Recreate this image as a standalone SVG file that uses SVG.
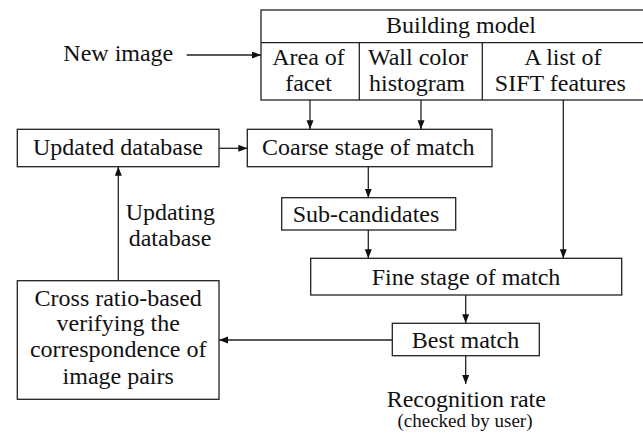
<svg xmlns="http://www.w3.org/2000/svg" width="643" height="436" viewBox="0 0 643 436">
<style>
.box{fill:#fff;stroke:#222;stroke-width:1.3}
.ln{fill:none;stroke:#222;stroke-width:1.3}
.c{stroke:#222;stroke-width:1.3;fill:none;marker-end:url(#ah)}
text{font-size:24px;fill:#111;text-anchor:middle}
.sm{font-size:19px}
</style>
<defs>
<marker id="ah" markerUnits="userSpaceOnUse" markerWidth="10" markerHeight="8" refX="9" refY="3.5" orient="auto">
<path d="M0,0 L9,3.5 L0,7 z" fill="#111"/>
</marker>
</defs>
<rect width="643" height="436" fill="#fff"/>
<g id="building-model">
<rect class="box" x="261" y="10" width="400" height="90"/>
<line class="ln" x1="261" y1="42.7" x2="661" y2="42.7"/>
<line class="ln" x1="359.3" y1="42.7" x2="359.3" y2="100"/>
<line class="ln" x1="482.3" y1="42.7" x2="482.3" y2="100"/>
<text font-family="Liberation Serif" x="461" y="33">Building model</text>
<text font-family="Liberation Serif" x="308.5" y="65">Area of</text>
<text font-family="Liberation Serif" x="308.5" y="91">facet</text>
<text font-family="Liberation Serif" x="418" y="65">Wall color</text>
<text font-family="Liberation Serif" x="417" y="91">histogram</text>
<text font-family="Liberation Serif" x="562.8" y="65">A list of</text>
<text font-family="Liberation Serif" x="560.3" y="91">SIFT features</text>
</g>
<g id="new-image">
<text font-family="Liberation Serif" x="118.3" y="61">New image</text>
</g>
<g id="updated-database">
<rect class="box" x="17.3" y="129.3" width="201.7" height="37.4"/>
<text font-family="Liberation Serif" x="118" y="155">Updated database</text>
</g>
<g id="coarse-stage">
<rect class="box" x="247.3" y="129.3" width="244.7" height="37.4"/>
<text font-family="Liberation Serif" x="368.3" y="155">Coarse stage of match</text>
</g>
<g id="sub-candidates">
<rect class="box" x="281.7" y="197.7" width="174" height="32.3"/>
<text font-family="Liberation Serif" x="366" y="222">Sub-candidates</text>
</g>
<g id="fine-stage">
<rect class="box" x="310.7" y="258.3" width="311" height="36.7"/>
<text font-family="Liberation Serif" x="466" y="284.5">Fine stage of match</text>
</g>
<g id="best-match">
<rect class="box" x="392.3" y="323.3" width="147" height="32.4"/>
<text font-family="Liberation Serif" x="465.5" y="347.5">Best match</text>
</g>
<g id="cross-ratio">
<rect class="box" x="17.3" y="280.7" width="201.7" height="118.6"/>
<text font-family="Liberation Serif" x="118.2" y="305.5">Cross ratio-based</text>
<text font-family="Liberation Serif" x="118.2" y="331">verifying the</text>
<text font-family="Liberation Serif" x="118.2" y="357">correspondence of</text>
<text font-family="Liberation Serif" x="118.2" y="383.5">image pairs</text>
</g>
<g id="recognition-rate">
<text font-family="Liberation Serif" x="466.3" y="407">Recognition rate</text>
<text font-family="Liberation Serif" class="sm" x="465" y="427">(checked by user)</text>
</g>
<g id="updating-label">
<text font-family="Liberation Serif" x="170.3" y="220">Updating</text>
<text font-family="Liberation Serif" x="170" y="246">database</text>
</g>
<g id="connectors">
<line class="c" x1="186.7" y1="55" x2="261" y2="55"/>
<line class="c" x1="310" y1="100" x2="310" y2="129.3"/>
<line class="c" x1="421" y1="100" x2="421" y2="129.3"/>
<line class="c" x1="563.3" y1="100" x2="563.3" y2="258.3"/>
<line class="c" x1="219" y1="148.3" x2="247.3" y2="148.3"/>
<line class="c" x1="368.3" y1="166.7" x2="368.3" y2="197.7"/>
<line class="c" x1="368.3" y1="230" x2="368.3" y2="258.3"/>
<line class="c" x1="465.7" y1="295" x2="465.7" y2="323.3"/>
<line class="c" x1="392.3" y1="340" x2="219" y2="340"/>
<line class="c" x1="465.7" y1="355.7" x2="465.7" y2="384"/>
<line class="c" x1="118.3" y1="280.7" x2="118.3" y2="166.7"/>
</g>
</svg>
